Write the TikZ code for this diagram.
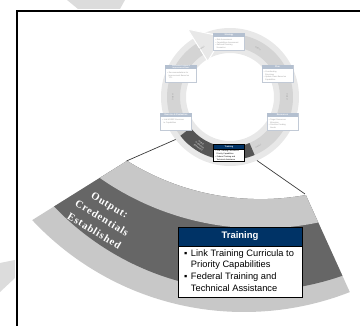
\documentclass[tikz,border=0pt]{standalone}
\usepackage{fontspec}
\setmainfont{Liberation Sans}
\newfontfamily\serifbf{Liberation Serif}
\usetikzlibrary{calc}
\definecolor{navy}{HTML}{003366}
\definecolor{bandlight}{HTML}{C8C8C8}
\definecolor{banddark}{HTML}{666666}
\definecolor{ringout}{HTML}{E8E8E8}
\definecolor{ringmid}{HTML}{D4D4D4}
\definecolor{segdark}{HTML}{555555}
\definecolor{hdrblue}{HTML}{B4C0D0}
\definecolor{boxline}{HTML}{C2CAD6}
\definecolor{watermark}{HTML}{DCDCDC}
\definecolor{tinygray}{HTML}{A0A0A0}
\definecolor{connline}{HTML}{3A3A3A}
\tikzset{
  sbox/.style={draw=boxline, fill=white, minimum width=31pt, minimum height=17pt, inner sep=0pt, line width=0.4pt},
  tinyhdr/.style={font=\fontsize{2.2}{2.6}\selectfont\bfseries, text=white, inner sep=0pt, align=center},
  tinybody/.style={font=\fontsize{2}{2.7}\selectfont, text=tinygray, inner sep=0pt, align=left, anchor=north west},
  seglabel/.style={font=\fontsize{2}{2.8}\selectfont, text=tinygray, inner sep=0pt, align=center},
  conn/.style={draw=connline, line width=0.7pt},
  bigout/.style={font=\serifbf\bfseries, text=white, inner sep=0pt, align=center},
}
\begin{document}
\begin{tikzpicture}[x=1pt,y=-1pt]
\useasboundingbox (0,0) rectangle (360,326);
\begin{scope}
\clip (0,0) rectangle (360,326);
% faint background shapes outside the frame
\fill[watermark] (67,0) -- (125,0) -- (120,9) -- (78,9) -- cycle;
\fill[watermark] (0,263) -- (15,260) -- (15,278) -- (0,292) -- cycle;

% magnified segment
\begin{scope}
\clip (218,104) -- (-14,249) -- (100,380) -- (372,341) -- (260,94) -- cycle;
\begin{scope}[even odd rule]
\clip (-100,-400) rectangle (500,500) (260.6,-52.9) circle[radius=252];
\fill[bandlight] (244,22) circle[radius=290];
\fill[banddark] (252,17) circle[radius=274];
\fill[bandlight] (260.6,-52.9) circle[radius=281.3];
\end{scope}
\end{scope}
\coordinate (wL) at (126.5,161);
\coordinate (wR) at (305,194);

% small cycle
\coordinate (sc) at (230,97);
\fill[ringout, even odd rule] (sc) circle[radius=69] (sc) circle[radius=44];
\fill[ringmid] ($(sc)+(-100:63)$) arc[start angle=-100, end angle=239, radius=63]
  -- ($(sc)+(239:50)$) arc[start angle=239, end angle=-100, radius=50] -- cycle;
\fill[segdark] ($(sc)+(67:63)$) arc[start angle=67, end angle=142, radius=63]
  -- ($(sc)+(142:50)$) arc[start angle=142, end angle=67, radius=50] -- cycle;
\filldraw[fill=ringout, draw=white, line width=1pt] ($(sc)+(238:42)$) -- ($(sc)+(238:80)$) -- ($(sc)+(263:61)$) -- cycle;
\coordinate (cL) at ($(sc)+(142:69)$);
\coordinate (cR) at ($(sc)+(67:69)$);

% segment labels
\node[seglabel, rotate=-30] (s1) at ($(sc)+(-60:56)$) {Output:};
\node[seglabel, rotate=-90] (s2) at ($(sc)+(0:57)$) {Output:};
\node[seglabel, rotate=30] (s3) at ($(sc)+(60:57)$) {Output:};
\node[seglabel, rotate=90] (s5) at ($(sc)+(180:57)$) {Output:};
\node[seglabel, rotate=30] (s6) at ($(sc)+(240:56)$) {Output:};
\node[seglabel, text=white, rotate=-36] (s4) at ($(sc)+(122:57)$) {Output:\\Credentials\\Established};

% small boxes
\node[sbox] (bT) at (229,41.5) {};
\node[sbox] (bRT) at (277.5,73.5) {};
\node[sbox] (bRB) at (282.5,121.5) {};
\node[sbox, draw=black] (bB) at (229,153) {};
\node[sbox] (bLB) at (176,121.5) {};
\node[sbox] (bLT) at (181,73.5) {};
\foreach \b in {bT,bRT,bRB,bLB,bLT}{
  \fill[hdrblue] (\b.north west) rectangle ($(\b.north east)+(0,4.5)$);
}
\filldraw[fill=navy, draw=black, line width=0.4pt] (bB.north west) rectangle ($(bB.north east)+(0,4.5)$);
\node[tinyhdr] (hT) at ($(bT.north)+(0,2.25)$) {Strategy};
\node[tinyhdr] (hRT) at ($(bRT.north)+(0,2.25)$) {Plan};
\node[tinyhdr] (hRB) at ($(bRB.north)+(0,2.25)$) {Resources};
\node[tinyhdr] (hB) at ($(bB.north)+(0,2.25)$) {Training};
\node[tinyhdr] (hLB) at ($(bLB.north)+(0,2.25)$) {Exercise \& Evaluation};
\node[tinyhdr, font=\fontsize{1.8}{2}\selectfont\bfseries] (hLT) at ($(bLT.north)+(0,2.25)$) {Corrective Actions \&\\Improvement Plans};
\node[tinybody] (tT) at ($(bT.north west)+(2,6)$) {\textbullet\ Risk Assessment\\\textbullet\ Capabilities Assessment\\\textbullet\ National Planning\\\ \ Scenarios};
\node[tinybody] (tRT) at ($(bRT.north west)+(2,6)$) {\textbullet\ Coordinating\\\ \ Structures\\\textbullet\ Update Plans Based on\\\ \ Capabilities};
\node[tinybody] (tRB) at ($(bRB.north west)+(2,6)$) {\textbullet\ Target Resources\\\ \ Allocation\\\textbullet\ Prioritize Funding\\\ \ Needs};
\node[tinybody, text=black] (tB) at ($(bB.north west)+(2,6)$) {\textbullet\ Link Training Curricula to\\\ \ Priority Capabilities\\\textbullet\ Federal Training and\\\ \ Technical Assistance};
\node[tinybody] (tLB) at ($(bLB.north west)+(2,6)$) {\textbullet\ Link HSEEP Exercises\\\ \ to Capabilities};
\node[tinybody] (tLT) at ($(bLT.north west)+(2,7)$) {\textbullet\ Recommendations for\\\ \ Improvement Based on\\\ \ TCL};

% connectors
\draw[conn] (cL) -- (wL);
\draw[conn] (cR) -- (wR);

% big label
\node[bigout, font=\serifbf\bfseries\fontsize{10.5}{15}\selectfont\addfontfeature{LetterSpace=8}, rotate=-31] (out) at (102,218) {Output:\\Credentials\\Established};

% big training box
\node[draw=black, fill=white, line width=0.7pt, minimum width=124pt, minimum height=51pt, inner sep=0pt] (tbody) at (240,271.5) {};
\node[draw=black, fill=navy, line width=0.7pt, minimum width=124pt, minimum height=19pt, inner sep=0pt,
      text=white, font=\fontsize{9.5}{11}\selectfont\bfseries] (thead) at (240,236.5) {Training};
\node[anchor=west, inner sep=0pt, font=\fontsize{9.3}{11.7}\selectfont] (tlist) at (184,271.5)
  {\begin{tabular}{@{}l@{\hspace{3.5pt}}l@{}}▪ & Link Training Curricula to\\ & Priority Capabilities\\ ▪ & Federal Training and\\ & Technical Assistance\end{tabular}};

% frame
\draw[line width=1.6pt] (16.8,330) -- (16.8,10.8) -- (365,10.8);
\end{scope}
\end{tikzpicture}
\end{document}
